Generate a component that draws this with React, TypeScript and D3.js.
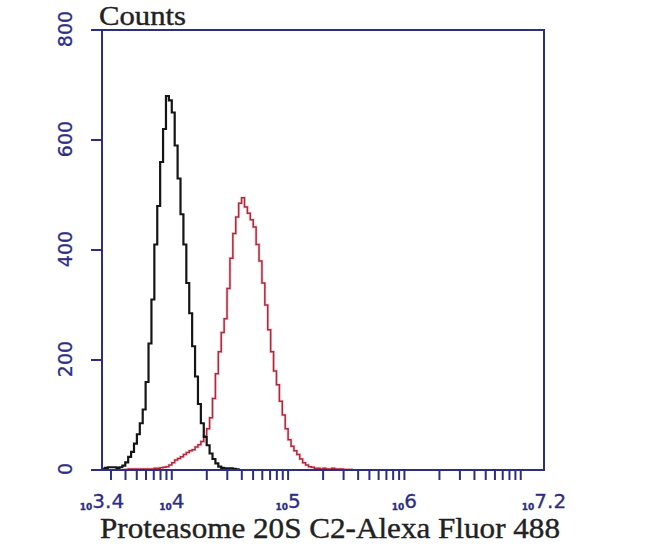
import React from "react";
import * as d3 from "d3";

// ---- data ----
const binWidthLog = 0.025; // histogram bin width in decades

const blackStartLog = 3.4;
const blackCounts = [
  2, 4, 5, 5, 5, 4, 5, 8, 14, 24, 33, 48, 65, 85, 110, 160, 230, 310, 410, 480,
  560, 620, 680, 672, 650, 590, 530, 465, 410, 340, 285, 225, 170, 120, 85, 60,
  45, 30, 20, 12, 6, 4, 3, 3, 3, 2, 1,
];

const redStartLog = 3.6;
const redCounts = [
  1, 2, 2, 2, 2, 2, 2, 2, 2, 2, 3, 3, 4, 5, 6, 9, 13, 18, 21, 24, 28, 32, 35, 37,
  42, 46, 52, 62, 75, 95, 130, 175, 215, 250, 275, 330, 385, 430, 460, 485, 495,
  478, 467, 455, 442, 410, 380, 340, 300, 255, 215, 180, 155, 125, 100, 75, 55,
  43, 35, 28, 20, 13, 9, 6, 5, 3, 3, 2, 3, 2, 2, 3, 2, 2, 2, 1, 1, 1,
];

const yTicks = [0, 200, 400, 600, 800];
const xMajorExps = ["3.4", "4", "5", "6", "7.2"];
const xMinorMultipliers = [1, 2, 3, 4, 5, 6, 7, 8, 9];
const xDecades = [3, 4, 5, 6, 7];
const xDomainLog = [3.4, 7.2];
const yDomain = [0, 800];
const xTitle = "Proteasome 20S C2-Alexa Fluor 488";
const yTitle = "Counts";

// ---- layout ----
const W = 650;
const H = 546;
const M = { left: 102, right: 544, top: 30, bottom: 470 };
const NAVY = "#2d2d84";

export default function App() {
  const xs = d3
    .scaleLog()
    .domain([Math.pow(10, xDomainLog[0]), Math.pow(10, xDomainLog[1])])
    .range([M.left, M.right]);
  const ys = d3.scaleLinear().domain(yDomain).range([M.bottom, M.top]);

  const histPath = (start: number, counts: number[]) => {
    const pts: [number, number][] = [];
    pts.push([xs(Math.pow(10, start)), ys(0)]);
    counts.forEach((c, i) => {
      pts.push([xs(Math.pow(10, start + i * binWidthLog)), ys(c)]);
    });
    const endEdge = xs(Math.pow(10, start + counts.length * binWidthLog));
    pts.push([endEdge, ys(counts[counts.length - 1])]);
    pts.push([endEdge, ys(0)]);
    return d3.line().curve(d3.curveStepAfter)(pts) || "";
  };

  const lo = Math.pow(10, xDomainLog[0]);
  const hi = Math.pow(10, xDomainLog[1]);
  const minorTicks: number[] = [];
  xDecades.forEach((d) =>
    xMinorMultipliers.forEach((m) => {
      const v = m * Math.pow(10, d);
      if (v >= lo * 1.01 && v <= hi) minorTicks.push(v);
    })
  );

  return (
    <svg
      width={W}
      height={H}
      style={{ position: "absolute", left: 0, top: 0, background: "#fff" }}
    >
      <rect x={0} y={0} width={W} height={H} fill="#fff" />

      {/* histograms */}
      <path
        d={histPath(redStartLog, redCounts)}
        fill="none"
        stroke="#f2b8c0"
        strokeWidth={3}
        opacity={0.6}
      />
      <path
        d={histPath(redStartLog, redCounts)}
        fill="none"
        stroke="#b0283c"
        strokeWidth={1.5}
      />
      <path
        d={histPath(blackStartLog, blackCounts)}
        fill="none"
        stroke="#151515"
        strokeWidth={2.2}
      />

      {/* box */}
      <rect
        x={M.left}
        y={M.top}
        width={M.right - M.left}
        height={M.bottom - M.top}
        fill="none"
        stroke={NAVY}
        strokeWidth={2}
      />

      {/* y ticks */}
      {yTicks.map((t) => (
        <g key={t}>
          <line
            x1={M.left - 11}
            x2={M.left}
            y1={ys(t)}
            y2={ys(t)}
            stroke={NAVY}
            strokeWidth={2}
          />
          <text
            transform={`translate(72,${ys(t) - 1}) rotate(-90)`}
            textAnchor="middle"
            fontFamily="DejaVu Sans, sans-serif"
            fontSize={19}
            fill={NAVY}
            stroke={NAVY}
            strokeWidth={0.3}
          >
            {t}
          </text>
        </g>
      ))}

      {/* x ticks */}
      {minorTicks.map((v, i) => (
        <line
          key={i}
          x1={xs(v)}
          x2={xs(v)}
          y1={M.bottom}
          y2={M.bottom + 10}
          stroke={NAVY}
          strokeWidth={2}
        />
      ))}
      {xMajorExps.map((e) => (
        <text
          key={e}
          x={xs(Math.pow(10, parseFloat(e)))}
          y={510}
          textAnchor="middle"
          fontFamily="DejaVu Sans, sans-serif"
          fill={NAVY}
          stroke={NAVY}
          strokeWidth={0.3}
        >
          <tspan fontSize={9} fontWeight="bold">
            10
          </tspan>
          <tspan fontSize={20} dy={-2}>
            {e}
          </tspan>
        </text>
      ))}

      {/* titles */}
      <text
        x={99}
        y={25}
        fontFamily="Liberation Serif, Times New Roman, serif"
        fontSize={28}
        fill="#222"
        stroke="#222"
        strokeWidth={0.4}
        textLength={87}
        lengthAdjust="spacingAndGlyphs"
      >
        {yTitle}
      </text>
      <text
        x={100}
        y={538}
        fontFamily="Liberation Serif, Times New Roman, serif"
        fontSize={30}
        fill="#222"
        stroke="#222"
        strokeWidth={0.4}
        textLength={460}
        lengthAdjust="spacingAndGlyphs"
      >
        {xTitle}
      </text>
    </svg>
  );
}
